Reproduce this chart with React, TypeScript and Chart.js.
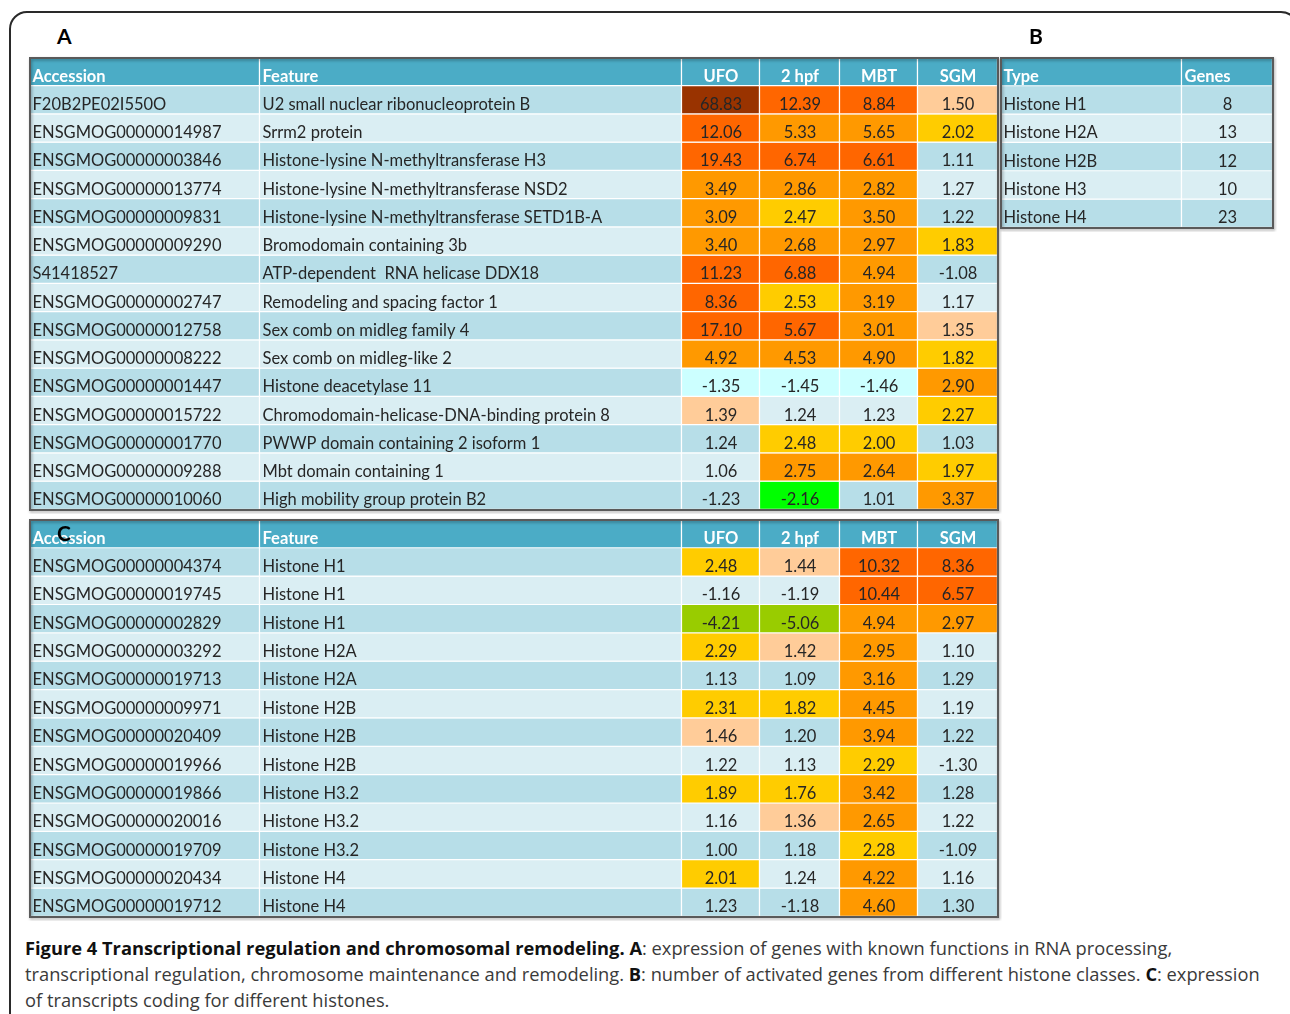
import React, { useEffect, useRef } from 'react';
import { Chart, registerables } from 'chart.js';
Chart.register(...registerables);

// ---------------- data ----------------
const TEXT_HEADERS = ['Accession', 'Feature'];
const NUM_HEADERS = ['UFO', '2 hpf', 'MBT', 'SGM'];

const A_ACCESSION = [
  'F20B2PE02I550O', 'ENSGMOG00000014987', 'ENSGMOG00000003846', 'ENSGMOG00000013774',
  'ENSGMOG00000009831', 'ENSGMOG00000009290', 'S41418527', 'ENSGMOG00000002747',
  'ENSGMOG00000012758', 'ENSGMOG00000008222', 'ENSGMOG00000001447', 'ENSGMOG00000015722',
  'ENSGMOG00000001770', 'ENSGMOG00000009288', 'ENSGMOG00000010060',
];
const A_FEATURE = [
  'U2 small nuclear ribonucleoprotein B', 'Srrm2 protein', 'Histone-lysine N-methyltransferase H3',
  'Histone-lysine N-methyltransferase NSD2', 'Histone-lysine N-methyltransferase SETD1B-A',
  'Bromodomain containing 3b', 'ATP-dependent  RNA helicase DDX18', 'Remodeling and spacing factor 1',
  'Sex comb on midleg family 4', 'Sex comb on midleg-like 2', 'Histone deacetylase 11',
  'Chromodomain-helicase-DNA-binding protein 8', 'PWWP domain containing 2 isoform 1',
  'Mbt domain containing 1', 'High mobility group protein B2',
];
const A_UFO = [68.83, 12.06, 19.43, 3.49, 3.09, 3.40, 11.23, 8.36, 17.10, 4.92, -1.35, 1.39, 1.24, 1.06, -1.23];
const A_HPF2 = [12.39, 5.33, 6.74, 2.86, 2.47, 2.68, 6.88, 2.53, 5.67, 4.53, -1.45, 1.24, 2.48, 2.75, -2.16];
const A_MBT = [8.84, 5.65, 6.61, 2.82, 3.50, 2.97, 4.94, 3.19, 3.01, 4.90, -1.46, 1.23, 2.00, 2.64, 1.01];
const A_SGM = [1.50, 2.02, 1.11, 1.27, 1.22, 1.83, -1.08, 1.17, 1.35, 1.82, 2.90, 2.27, 1.03, 1.97, 3.37];

const B_HEADERS = ['Type', 'Genes'];
const B_TYPE = ['Histone H1', 'Histone H2A', 'Histone H2B', 'Histone H3', 'Histone H4'];
const B_GENES = [8, 13, 12, 10, 23];

const C_ACCESSION = [
  'ENSGMOG00000004374', 'ENSGMOG00000019745', 'ENSGMOG00000002829', 'ENSGMOG00000003292',
  'ENSGMOG00000019713', 'ENSGMOG00000009971', 'ENSGMOG00000020409', 'ENSGMOG00000019966',
  'ENSGMOG00000019866', 'ENSGMOG00000020016', 'ENSGMOG00000019709', 'ENSGMOG00000020434',
  'ENSGMOG00000019712',
];
const C_FEATURE = [
  'Histone H1', 'Histone H1', 'Histone H1', 'Histone H2A', 'Histone H2A', 'Histone H2B',
  'Histone H2B', 'Histone H2B', 'Histone H3.2', 'Histone H3.2', 'Histone H3.2', 'Histone H4', 'Histone H4',
];
const C_UFO = [2.48, -1.16, -4.21, 2.29, 1.13, 2.31, 1.46, 1.22, 1.89, 1.16, 1.00, 2.01, 1.23];
const C_HPF2 = [1.44, -1.19, -5.06, 1.42, 1.09, 1.82, 1.20, 1.13, 1.76, 1.36, 1.18, 1.24, -1.18];
const C_MBT = [10.32, 10.44, 4.94, 2.95, 3.16, 4.45, 3.94, 2.29, 3.42, 2.65, 2.28, 4.22, 4.60];
const C_SGM = [8.36, 6.57, 2.97, 1.10, 1.29, 1.19, 1.22, -1.30, 1.28, 1.22, -1.09, 1.16, 1.30];

// ---------------- layout / style ----------------
const FONT = 'Lato, "DejaVu Sans", sans-serif';
const FONT_PX = 16.5;
const HEADER_BG = '#4BACC6';
const STRIPE_DARK = '#B7DEE8';
const STRIPE_LIGHT = '#DAEEF3';
const MAIN_EDGES = [0, 230, 652, 730, 810, 888, 968];
const B_EDGES = [0, 181, 272];
const PAD = 4;

function heatColor(v: number): string | null {
  if (v >= 20) return '#993300';
  if (v >= 5.66) return '#FF6600';
  if (v >= 2.6) return '#FF9900';
  if (v >= 1.7) return '#FFCC00';
  if (v >= 1.33) return '#FFCC99';
  if (v <= -3) return '#99CC00';
  if (v <= -2) return '#00FF00';
  if (v <= -1.33) return '#CCFFFF';
  return null;
}

type Col = {
  header: string;
  texts: string[];
  nums?: number[];
  align: 'left' | 'center';
  headerAlign: 'left' | 'center';
};

function mainCols(acc: string[], feat: string[], series: number[][]): Col[] {
  const cols: Col[] = [
    { header: TEXT_HEADERS[0], texts: acc, align: 'left', headerAlign: 'left' },
    { header: TEXT_HEADERS[1], texts: feat, align: 'left', headerAlign: 'left' },
  ];
  series.forEach((s, i) => {
    cols.push({ header: NUM_HEADERS[i], texts: s.map((v) => v.toFixed(2)), nums: s, align: 'center', headerAlign: 'center' });
  });
  return cols;
}

function TableChart(props: { x: number; y: number; w: number; h: number; edges: number[]; cols: Col[] }) {
  const { x, y, w, h, edges, cols } = props;
  const ref = useRef<HTMLCanvasElement>(null);
  useEffect(() => {
    const canvas = ref.current;
    if (!canvas) return;
    const labels = [cols[0].header, ...cols[0].texts];
    const datasets = cols.map((c, ci) => ({
      label: c.header,
      data: labels.map(() => [edges[ci], edges[ci + 1]]),
      backgroundColor: labels.map((_, ri) => {
        if (ri === 0) return HEADER_BG;
        const hc = c.nums ? heatColor(c.nums[ri - 1]) : null;
        return hc || ((ri - 1) % 2 === 0 ? STRIPE_DARK : STRIPE_LIGHT);
      }),
      borderColor: '#ffffff',
      borderWidth: { top: 0, left: 0, right: 1.5, bottom: 1.5 },
      borderSkipped: false,
      grouped: false,
      barPercentage: 1,
      categoryPercentage: 1,
    }));

    const textPlugin = {
      id: 'cellText',
      afterDatasetsDraw(chart: any) {
        const ctx = chart.ctx;
        ctx.save();
        chart.data.datasets.forEach((_: any, ci: number) => {
          const meta = chart.getDatasetMeta(ci);
          meta.data.forEach((el: any, ri: number) => {
            const p = el.getProps(['x', 'y', 'base'], true);
            const l = Math.min(p.x, p.base);
            const r = Math.max(p.x, p.base);
            const head = ri === 0;
            const text = head ? cols[ci].header : cols[ci].texts[ri - 1];
            const align = head ? cols[ci].headerAlign : cols[ci].align;
            ctx.font = `${head ? 'bold ' : ''}${FONT_PX}px ${FONT}`;
            ctx.fillStyle = head ? '#ffffff' : '#262626';
            ctx.textBaseline = 'alphabetic';
            ctx.textAlign = align;
            const tx = align === 'left' ? l + 2.5 : (l + r) / 2;
            ctx.fillText(text, tx, p.y + 9.5);
          });
        });
        ctx.restore();
      },
      afterDraw(chart: any) {
        const a = chart.chartArea;
        const ctx = chart.ctx;
        ctx.save();
        ctx.shadowColor = 'rgba(0,0,0,0.35)';
        ctx.shadowBlur = 3;
        ctx.shadowOffsetX = 1;
        ctx.shadowOffsetY = 1.5;
        ctx.strokeStyle = '#5a5a5a';
        ctx.lineWidth = 2;
        ctx.strokeRect(a.left, a.top, a.right - a.left, a.bottom - a.top);
        ctx.restore();
      },
    };

    const chart = new Chart(canvas, {
      type: 'bar',
      data: { labels, datasets: datasets as any },
      options: {
        indexAxis: 'y',
        animation: false,
        responsive: false,
        maintainAspectRatio: false,
        layout: { padding: PAD },
        events: [],
        plugins: { legend: { display: false }, tooltip: { enabled: false }, title: { display: false } },
        scales: {
          x: { type: 'linear', min: 0, max: edges[edges.length - 1], display: false },
          y: { type: 'category', display: false, offset: true },
        },
      } as any,
      plugins: [textPlugin],
    });
    return () => chart.destroy();
  }, []);
  return (
    <canvas
      ref={ref}
      width={w + 2 * PAD}
      height={h + 2 * PAD}
      style={{ position: 'absolute', left: x - PAD, top: y - PAD, width: w + 2 * PAD, height: h + 2 * PAD }}
    />
  );
}

const panelLabel = (t: string, left: number, top: number) => (
  <div
    style={{
      position: 'absolute', left, top, font: `bold 21px ${FONT}`, lineHeight: '21px', color: '#000', zIndex: 5,
    }}
  >
    {t}
  </div>
);

export default function App() {
  const colsA = mainCols(A_ACCESSION, A_FEATURE, [A_UFO, A_HPF2, A_MBT, A_SGM]);
  const colsC = mainCols(C_ACCESSION, C_FEATURE, [C_UFO, C_HPF2, C_MBT, C_SGM]);
  const colsB: Col[] = [
    { header: B_HEADERS[0], texts: B_TYPE, align: 'left', headerAlign: 'left' },
    { header: B_HEADERS[1], texts: B_GENES.map(String), align: 'center', headerAlign: 'left' },
  ];
  const capStyle: React.CSSProperties = {
    position: 'absolute', left: 25, top: 935, font: `18.3px "Open Sans", sans-serif`, lineHeight: '26px',
    color: '#3a3a3a', whiteSpace: 'nowrap',
  };
  return (
    <div style={{ position: 'absolute', left: 0, top: 0, width: 1290, height: 1014, overflow: 'hidden', background: '#fff' }}>
      <div
        style={{
          position: 'absolute', left: 9, top: 11, width: 1290, height: 1200, boxSizing: 'border-box',
          border: '2px solid #2a2a2a', borderRadius: 18,
        }}
      />
      <TableChart x={30} y={58} w={968} h={452} edges={MAIN_EDGES} cols={colsA} />
      <TableChart x={1001} y={58} w={272} h={170} edges={B_EDGES} cols={colsB} />
      <TableChart x={30} y={520} w={968} h={397} edges={MAIN_EDGES} cols={colsC} />
      {panelLabel('A', 57, 25)}
      {panelLabel('B', 1029, 25)}
      {panelLabel('C', 57, 522)}
      <div style={capStyle}>
        <div>
          <b style={{ color: '#111' }}>Figure 4 Transcriptional regulation and chromosomal remodeling.</b>{' '}
          <b style={{ color: '#111' }}>A</b>: expression of genes with known functions in RNA processing,
        </div>
        <div>
          transcriptional regulation, chromosome maintenance and remodeling. <b style={{ color: '#111' }}>B</b>: number of
          activated genes from different histone classes. <b style={{ color: '#111' }}>C</b>: expression
        </div>
        <div>of transcripts coding for different histones.</div>
      </div>
    </div>
  );
}
